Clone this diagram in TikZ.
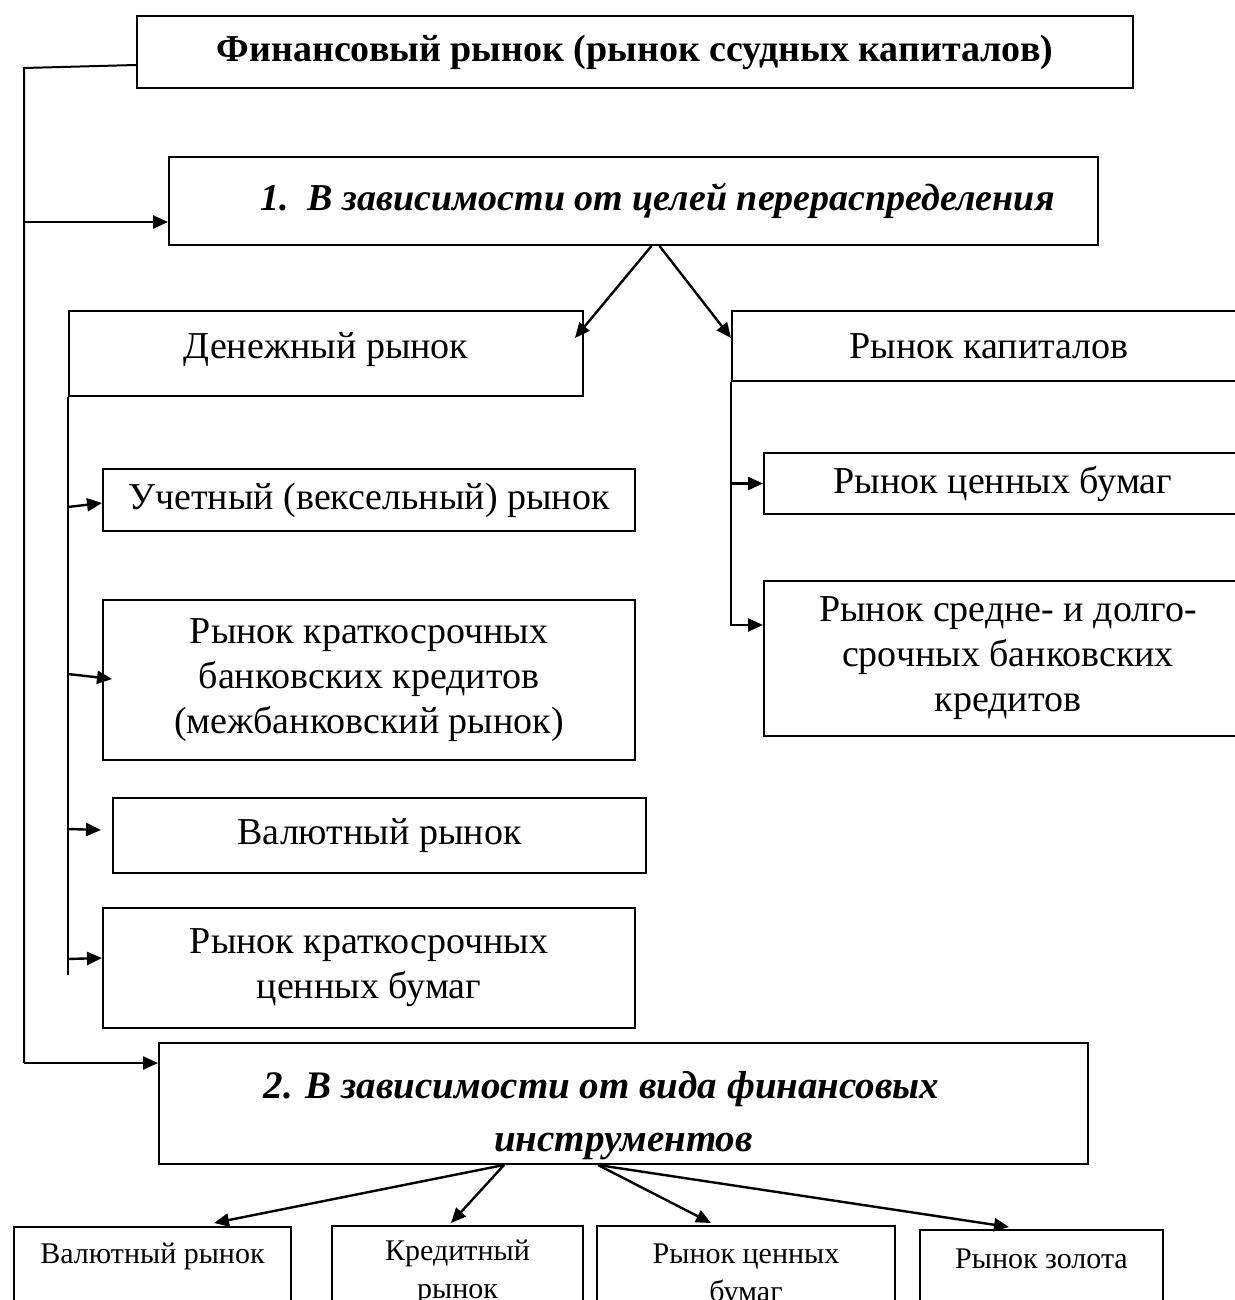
\documentclass[tikz,border=0pt]{standalone}
\usepackage{fontspec}
\setmainfont{Liberation Serif}
\usepackage{tikz}
\usetikzlibrary{arrows.meta,positioning}
\newcommand{\boxfont}{\fontsize{19}{22.5}\selectfont}
\newcommand{\headfont}{\fontsize{19.5}{26.5}\selectfont\bfseries\itshape}
\newcommand{\lowfont}{\fontsize{15}{19}\selectfont}

\begin{document}
\begin{tikzpicture}[x=0.5pt, y=-0.5pt,
    box/.style={draw, line width=1pt, anchor=north west, inner sep=0pt, align=center, font=\boxfont},
    arr/.style={line width=1.2pt, -{Triangle[length=7.5pt,width=6.5pt]}},
    lowtxt/.style={align=center, inner sep=0pt, font=\lowfont}]

    \useasboundingbox (0,0) rectangle (1235,1300);
    \clip (0,0) rectangle (1235,1300);

    % Top boxes
    \node[box, minimum width=498pt, minimum height=36pt, font=\boxfont\bfseries] (top) at (136,15) {Финансовый рынок (рынок ссудных капиталов)};
    \node[box, minimum width=464.5pt, minimum height=44pt, font=\headfont\fontsize{19}{24}\selectfont] (aim) at (168,156) {\hspace*{24pt}1.\ \ В зависимости от целей перераспределения};

    % Money market side
    \node[box, minimum width=257pt, minimum height=42.5pt] (money) at (68,310) {Денежный рынок\rule[-8pt]{0pt}{8pt}};
    \node[box, minimum width=266pt, minimum height=31pt] (bill) at (102,468) {Учетный (вексельный) рынок};
    \node[box, minimum width=266pt, minimum height=80pt] (credit) at (102,599) {Рынок краткосрочных\\банковских кредитов\\(межбанковский рынок)};
    \node[box, minimum width=266.5pt, minimum height=37.5pt] (fx) at (112,797) {Валютный рынок};
    \node[box, minimum width=266pt, minimum height=60pt] (shortsec) at (102,907) {Рынок краткосрочных\\ценных бумаг};

    % Capital market side
    \node[box, minimum width=257pt, minimum height=35pt] (capital) at (731,310) {Рынок капиталов};
    \node[box, minimum width=239pt, minimum height=30.5pt] (secm) at (763,452) {Рынок ценных бумаг};
    \node[box, minimum width=244pt, minimum height=77.5pt] (longc) at (763,580) {Рынок средне- и долго-\\срочных банковских\\кредитов};

    % Second grouping
    \node[box, minimum width=464.5pt, minimum height=60.5pt, font=\headfont] (tools) at (158,1042) {\rule{0pt}{26pt}2. В зависимости от вида финансовых\hspace*{22pt}\\инструментов};
    \node[box, minimum width=138.5pt, minimum height=50pt] (fxb) at (13,1226) {};
    \node[box, minimum width=125.5pt, minimum height=50pt] (credb) at (331,1225) {};
    \node[box, minimum width=149pt, minimum height=50pt] (secb) at (596,1225) {};
    \node[box, minimum width=121.5pt, minimum height=50pt] (gold) at (919,1229) {};
    \node[lowtxt, below=8.5pt of fxb.north] (fxbt) {Валютный рынок};
    \node[lowtxt, below=7.5pt of credb.north] (credbt) {Кредитный\\рынок};
    \node[lowtxt, below=9pt of secb.north] (secbt) {Рынок ценных\\бумаг};
    \node[lowtxt, below=9.5pt of gold.north] (goldt) {Рынок золота};

    % Connectors
    \coordinate (bend) at (24,68);
    \coordinate (fork) at (24,222);
    \coordinate (foot) at (24,1063);
    \draw[line width=1pt] ([yshift=-6.5pt]top.west) -- (bend) -- (foot);
    \draw[arr] (fork) -- (fork -| aim.west);
    \draw[arr] (foot) -- (foot -| tools.west);

    \draw[arr] ([xshift=9pt]aim.south) -- ([xshift=-4.5pt,yshift=-14pt]money.north east);
    \draw[arr] ([xshift=13pt]aim.south) -- ([yshift=-14pt]capital.north west);

    \draw[line width=1pt] (money.south west) -- ([yshift=-289pt]money.south west);
    \foreach \t/\d/\tx/\ty in {bill/55/0/-1.5, credit/138.5/5/0.5, fx/216/-5.5/2.75, shortsec/281/0/5}
        \draw[arr] ([yshift=-\d pt]money.south west) -- ([xshift=\tx pt,yshift=\ty pt]\t.west);

    \draw[arr] (capital.south west) |- (secm.west);
    \draw[arr] (capital.south west) |- ([yshift=16.75pt]longc.west);

    \draw[arr] ([xshift=-59.75pt]tools.south) -- ([xshift=30.75pt,yshift=1.5pt]fxb.north);
    \draw[arr] ([xshift=-59.75pt]tools.south) -- ([xshift=-3.25pt,yshift=1pt]credb.north);
    \draw[arr] ([xshift=-12.75pt]tools.south) -- ([xshift=-17.5pt,yshift=1pt]secb.north);
    \draw[arr] ([xshift=-12.75pt]tools.south) -- ([xshift=-16.25pt,yshift=1pt]gold.north);
\end{tikzpicture}
\end{document}
